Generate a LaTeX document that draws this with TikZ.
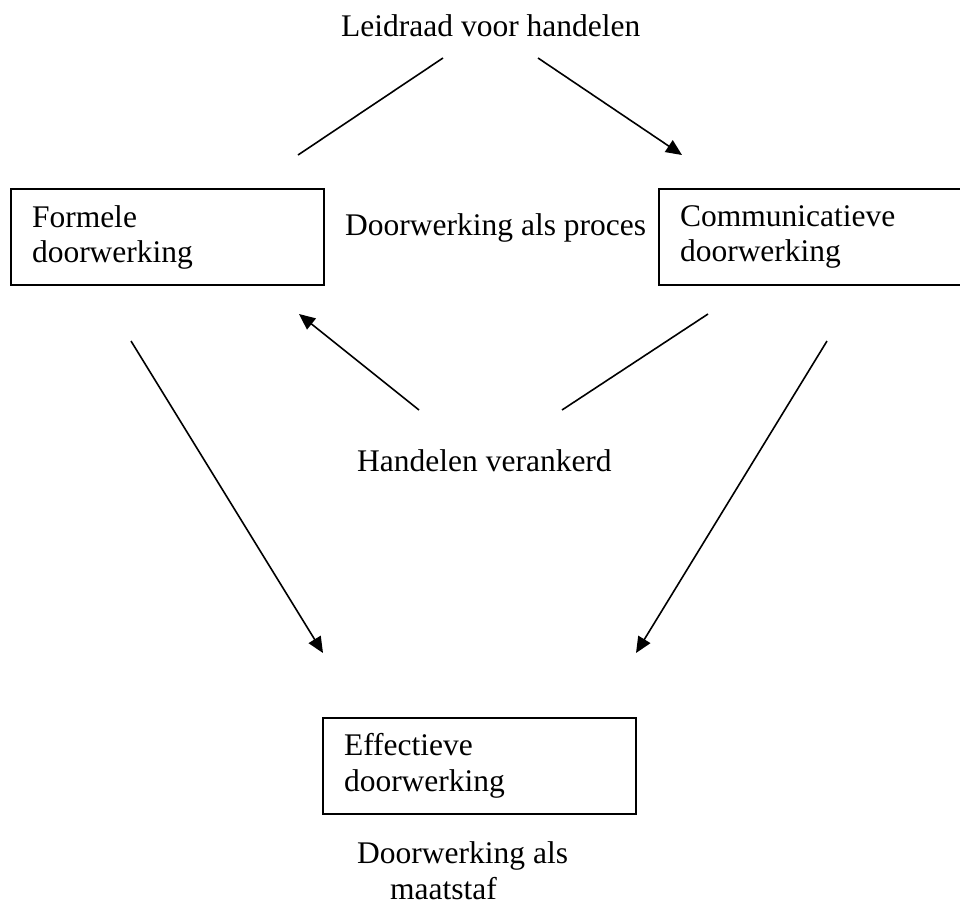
\documentclass[tikz,border=0pt]{standalone}
\usepackage{fontspec}
\setmainfont{Liberation Serif}
\usetikzlibrary{arrows.meta}
\tikzset{
  box/.style={draw, line width=2pt, minimum width=313pt, minimum height=96pt,
    text width=271pt, inner xsep=21pt, inner ysep=0pt, align=left, anchor=north west},
  lbl/.style={inner sep=0pt, anchor=base west},
  link/.style={line width=1.6pt},
  arr/.style={link, -{Triangle[length=16pt,width=14pt]}}
}
\begin{document}
\begin{tikzpicture}[x=1pt,y=-1pt]
\useasboundingbox (0,0) rectangle (960,906);
\fontsize{31.5}{35}\selectfont

% boxes
\node[box] (formeel) at (10,188) {Formele\\doorwerking};
\node[box] (comm) at (658,188) {Communicatieve\\doorwerking};
\node[box, font=\fontsize{31.5}{36}\selectfont] (effect) at (322,717) {Effectieve\\doorwerking};

% labels
\node[lbl] (leidraad) at (341,36) {Leidraad voor handelen};
\node[lbl] (proces) at (345,235) {Doorwerking als proces};
\node[lbl] (verankerd) at (357,471) {Handelen verankerd};
% base = last line
\node[lbl, align=left, font=\fontsize{31.5}{36}\selectfont] (maatstaf) at (357,899)
  {Doorwerking als\\\hspace*{33pt}maatstaf};

% line ends
\coordinate (A1) at (443,58);
\coordinate (A2) at (298,155);
\coordinate (B1) at (538,58);
\coordinate (B2) at (682,155);
\coordinate (C1) at (419,410);
\coordinate (C2) at (299,314);
\coordinate (D1) at (562,410);
\coordinate (D2) at (708,314);
\coordinate (E1) at (131,341);
\coordinate (E2) at (323,653);
\coordinate (F1) at (827,341);
\coordinate (F2) at (636,653);

% connectors
\draw[link] (A1) -- (A2);
\draw[arr] (B1) -- (B2);
\draw[arr] (C1) -- (C2);
\draw[link] (D1) -- (D2);
\draw[arr] (E1) -- (E2);
\draw[arr] (F1) -- (F2);
\end{tikzpicture}
\end{document}
